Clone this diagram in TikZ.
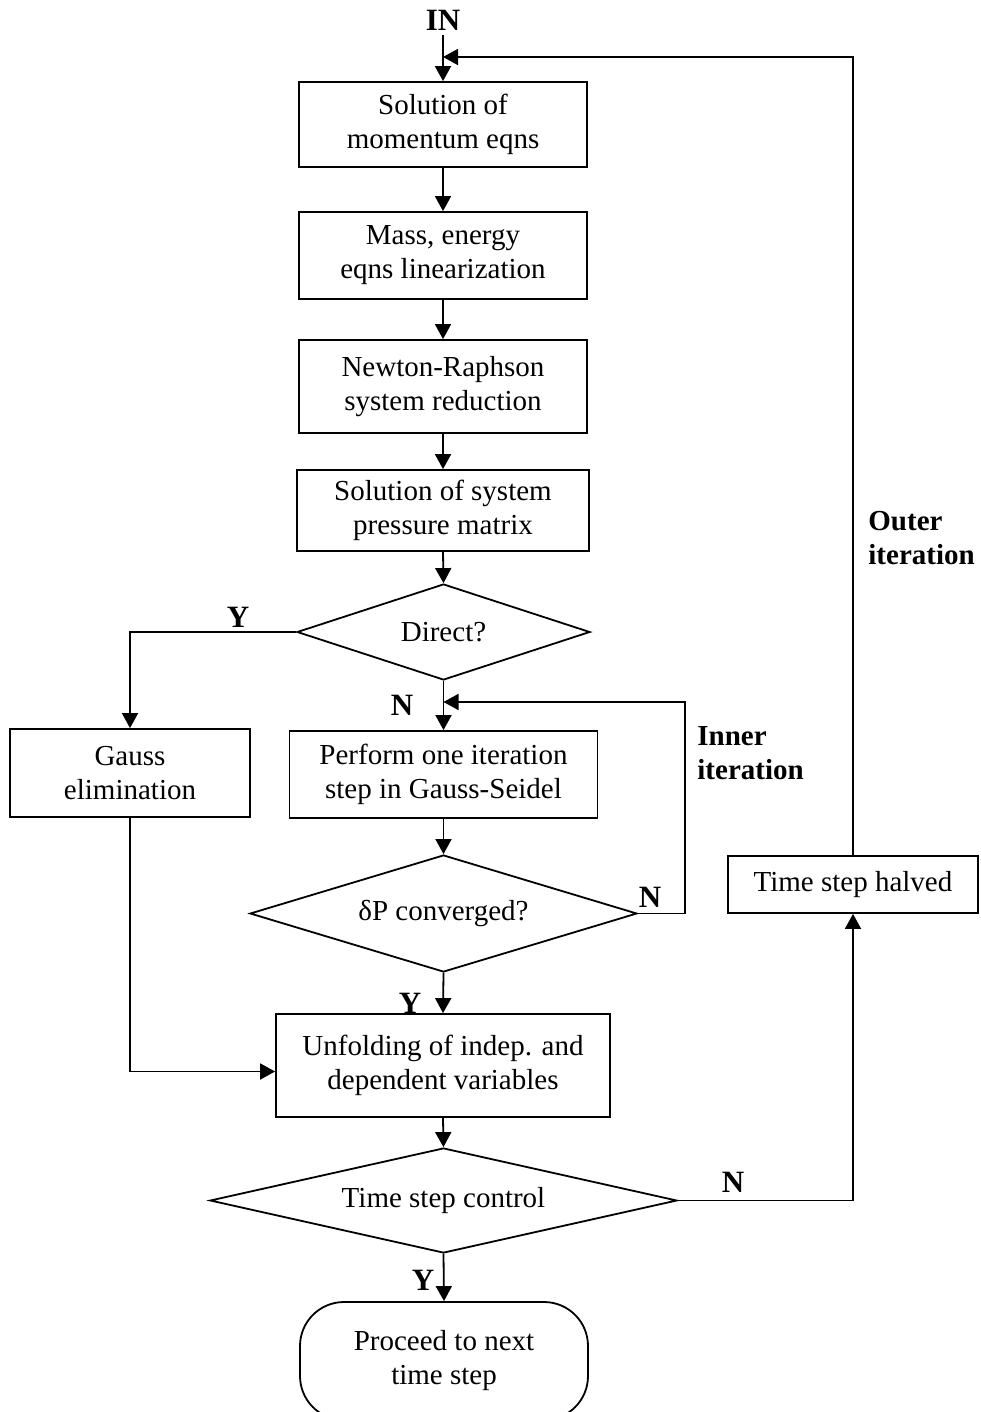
\documentclass[tikz,border=0pt]{standalone}
\usepackage{fontspec}
\setmainfont{Liberation Serif}
\usetikzlibrary{shapes.geometric,arrows.meta}
\begin{document}
\begin{tikzpicture}[x=0.5pt,y=-0.5pt,
  every node/.style={font=\fontsize{14.5}{17}\selectfont, align=center},
  box/.style={draw, line width=0.9pt, inner sep=0pt},
  dec/.style={draw, diamond, line width=0.9pt, inner sep=0pt},
  lab/.style={font=\fontsize{15.5}{17}\selectfont\bfseries, inner sep=0pt},
  looplab/.style={font=\fontsize{14.5}{17}\selectfont\bfseries, inner sep=0pt, anchor=west, align=left},
  arr/.style={line width=0.9pt, -{Triangle[length=7.5pt,width=8pt]}},
  ln/.style={line width=0.9pt}]
\useasboundingbox[fill=white] (0,0) rectangle (980,1412);

% boxes
\node[box, minimum width=144pt, minimum height=42.5pt] (b1) at (443,124.5) {Solution of\\momentum eqns};
\node[box, minimum width=144pt, minimum height=43.5pt] (b2) at (443,255.5) {Mass, energy\\eqns linearization};
\node[box, minimum width=144pt, minimum height=46.5pt] (b3) at (443,386.5) {Newton-Raphson\\system reduction};
\node[box, minimum width=146pt, minimum height=40.5pt] (b4) at (443,510.5) {Solution of system\\pressure matrix};
\node[dec, minimum width=146.5pt, minimum height=48pt, aspect=3.05] (d1) at (443.5,632) {Direct?};
\node[box, minimum width=120pt, minimum height=44pt] (gauss) at (130,773) {Gauss\\elimination};
\node[box, minimum width=154pt, minimum height=43.5pt] (perf) at (443.5,774.5) {Perform one iteration\\step in Gauss-Seidel};
\node[dec, minimum width=193.5pt, minimum height=58.5pt, aspect=3.3] (d2) at (443.5,913.5) {δP converged?};
\node[box, minimum width=167pt, minimum height=51.5pt] (unf) at (443,1065.5) {Unfolding of indep. and\\dependent variables};
\node[dec, minimum width=233.5pt, minimum height=52.5pt, aspect=4.45] (d3) at (443.5,1200.5) {Time step control};
\node[box, minimum width=125pt, minimum height=28.5pt] (half) at (853,884.5) {Time step halved};
\node[box, rounded corners=22pt, minimum width=144pt, minimum height=59pt] (term) at (444,1361) {Proceed to next\\time step};

% labels
\node[lab] (lin) at (443,20) {IN};
\node[lab] (ly1) at (238,617) {Y};
\node[lab] (ln1) at (402,705) {N};
\node[lab] (ln2) at (650,897) {N};
\node[lab] (ly2) at (410,1003) {Y};
\node[lab] (ln3) at (733,1182) {N};
\node[lab] (ly3) at (423,1280) {Y};
\node[looplab] (linner) at (697,753.5) {Inner\\iteration};
\node[looplab] (louter) at (868,538.5) {Outer\\iteration};

% helper coordinates
\coordinate (oj) at (443,57);
\coordinate (ij) at (443.5,702);
\coordinate (iR) at (685,702);

% connectors
\draw[arr] (lin.south) ++(0,4) -- (b1.north);
\draw[arr] (b1.south) -- (b2.north);
\draw[arr] (b2.south) -- (b3.north);
\draw[arr] (b3.south) -- (b4.north);
\draw[arr] (b4.south) -- (d1.north);
\draw[arr] (d1.west) -| (gauss.north);
\draw[arr] (d1.south) -- (perf.north);
\draw[arr] (perf.south) -- (d2.north);
\draw[arr] (d2.east) -| (iR) -- (ij);
\draw[arr] (d2.south) -- (unf.north);
\draw[arr] (gauss.south) |- ([yshift=-3pt]unf.west);
\draw[arr] (unf.south) -- (d3.north);
\draw[arr] (d3.east) -| (half.south);
\draw[arr] (half.north) |- (oj);
\draw[arr] (d3.south) -- (term.north);
\end{tikzpicture}
\end{document}
